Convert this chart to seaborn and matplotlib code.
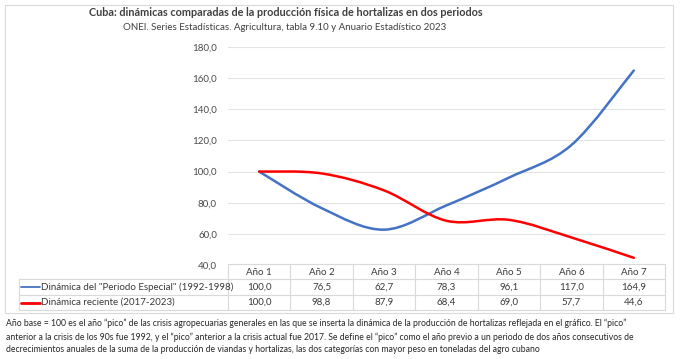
import matplotlib
matplotlib.use("Agg")
import matplotlib.pyplot as plt
import matplotlib.transforms as mtransforms
from matplotlib.path import Path
from matplotlib.patches import PathPatch, Rectangle
import numpy as np
import pandas as pd
import seaborn as sns

# ---------------- data ----------------
categories = ["Año 1", "Año 2", "Año 3", "Año 4", "Año 5", "Año 6", "Año 7"]
series_names = ['Dinámica del "Periodo Especial" (1992-1998)', "Dinámica reciente (2017-2023)"]
especial = [100.0, 76.5, 62.7, 78.3, 96.1, 117.0, 164.9]
reciente = [100.0, 98.8, 87.9, 68.4, 69.0, 57.7, 44.6]
y_ticks = [40, 60, 80, 100, 120, 140, 160, 180]
colors = ["#4472C4", "#FF0000"]

title = "Cuba: dinámicas comparadas de la producción física de hortalizas en dos periodos"
subtitle = "ONEI. Series Estadísticas. Agricultura, tabla 9.10 y Anuario Estadístico 2023"
footnote = ("Año base = 100 es el año “pico” de las crisis agropecuarias generales en las que se inserta la dinámica de la producción de hortalizas reflejada en el gráfico. El “pico”\n"
            "anterior a la crisis de los 90s fue 1992, y el “pico” anterior a la crisis actual fue 2017. Se define el “pico” como el año previo a un periodo de dos años consecutivos de\n"
            "decrecimientos anuales de la suma de la producción de viandas y hortalizas, las dos categorías con mayor peso en toneladas del agro cubano")

sns.set_theme(style="white")
plt.rcParams["font.family"] = ["Lato", "DejaVu Sans"]

W, H = 680, 359
fig = plt.figure(figsize=(W / 100, H / 100), dpi=100)
fig.patch.set_facecolor("white")

def fx(px):
    return px / W

def fy(py):
    return 1 - py / H

# outer frame
fig.patches.append(Rectangle((fx(5), fy(313)), fx(668), (313 - 5) / H, transform=fig.transFigure,
                             fill=False, edgecolor="#D9D9D9", linewidth=0.8))

ax_left, ax_right, ax_top, ax_bot = 228, 665, 47, 265
ax = fig.add_axes([fx(ax_left), fy(ax_bot), fx(ax_right - ax_left), (ax_bot - ax_top) / H])

df = pd.DataFrame({
    "x": list(range(len(categories))) * 2,
    "value": especial + reciente,
    "serie": [series_names[0]] * len(categories) + [series_names[1]] * len(categories),
})
sns.lineplot(data=df, x="x", y="value", hue="serie", palette=colors, ax=ax, legend=False,
             linewidth=1.8, sort=False)

# Excel-like smoothing of each seaborn line via Bezier path
for line, col in zip(list(ax.get_lines()), colors):
    xs, ys = line.get_xdata(), line.get_ydata()
    pts = np.column_stack([xs, ys]).astype(float)
    n = len(pts)
    verts = [pts[0]]
    codes = [Path.MOVETO]
    for i in range(n - 1):
        p0 = pts[i - 1] if i > 0 else pts[i]
        p1 = pts[i]
        p2 = pts[i + 1]
        p3 = pts[i + 2] if i + 2 < n else pts[i + 1]
        c1 = p1 + (p2 - p0) / 6.0
        c2 = p2 - (p3 - p1) / 6.0
        verts += [c1, c2, p2]
        codes += [Path.CURVE4] * 3
    patch = PathPatch(Path(verts, codes), facecolor="none", edgecolor=col, linewidth=1.8,
                      capstyle="round", joinstyle="round", zorder=3)
    ax.add_patch(patch)
    line.set_visible(False)

ax.set_xlim(-0.5, len(categories) - 0.5)
ax.set_ylim(40, 180)
ax.set_yticks(y_ticks)
ax.set_yticklabels([f"{v:.1f}".replace(".", ",") for v in y_ticks], fontsize=7, color="#4A4A4A")
ax.set_xticks([])
ax.set_xlabel("")
ax.set_ylabel("")
ax.tick_params(axis="y", length=0, pad=8)
ax.grid(axis="y", color="#E3E3E3", linewidth=0.8)
ax.set_axisbelow(True)
for s in ax.spines.values():
    s.set_visible(False)

# title
fig.text(fx(286), fy(12), title, ha="center", va="center", fontsize=7.8, fontweight="bold", color="#404040")
fig.text(fx(285), fy(27), subtitle, ha="center", va="center", fontsize=7, color="#404040")

# ---- data table below ----
tr = mtransforms.blended_transform_factory(ax.transData, fig.transFigure)
rows_px = [264, 279, 295, 310]
gc = "#D9D9D9"
fig.add_artist(plt.Line2D([fx(ax_left), fx(ax_right)], [fy(rows_px[0])] * 2, transform=fig.transFigure, color=gc, lw=0.8))
for r in rows_px[1:]:
    fig.add_artist(plt.Line2D([fx(19), fx(ax_right)], [fy(r)] * 2, transform=fig.transFigure, color=gc, lw=0.8))
for k in range(len(categories) + 1):
    xk = k - 0.5
    fig.add_artist(plt.Line2D([xk, xk], [fy(rows_px[0]), fy(rows_px[3])], transform=tr, color=gc, lw=0.8))
fig.add_artist(plt.Line2D([fx(19), fx(19)], [fy(rows_px[1]), fy(rows_px[3])], transform=fig.transFigure, color=gc, lw=0.8))

tc = "#3A3A3A"
for i, c in enumerate(categories):
    fig.text(i, fy((rows_px[0] + rows_px[1]) / 2 + 1), c, transform=tr, ha="center", va="center", fontsize=7, color=tc)
for r, (vals, name, col) in enumerate(zip([especial, reciente], series_names, colors)):
    yc = fy((rows_px[r + 1] + rows_px[r + 2]) / 2)
    for i, v in enumerate(vals):
        fig.text(i, yc, f"{v:.1f}".replace(".", ","), transform=tr, ha="center", va="center", fontsize=7, color=tc)
    fig.add_artist(plt.Line2D([fx(21), fx(40)], [yc, yc], transform=fig.transFigure, color=col,
                              lw=1.3 if r == 0 else 2.0))
    fig.text(fx(41), yc, name, ha="left", va="center", fontsize=7, color=tc)

fig.text(fx(6), fy(319), footnote, ha="left", va="top", fontsize=6.2, color="#262626", linespacing=1.5)

fig.savefig("out.png", dpi=100, facecolor="white")
